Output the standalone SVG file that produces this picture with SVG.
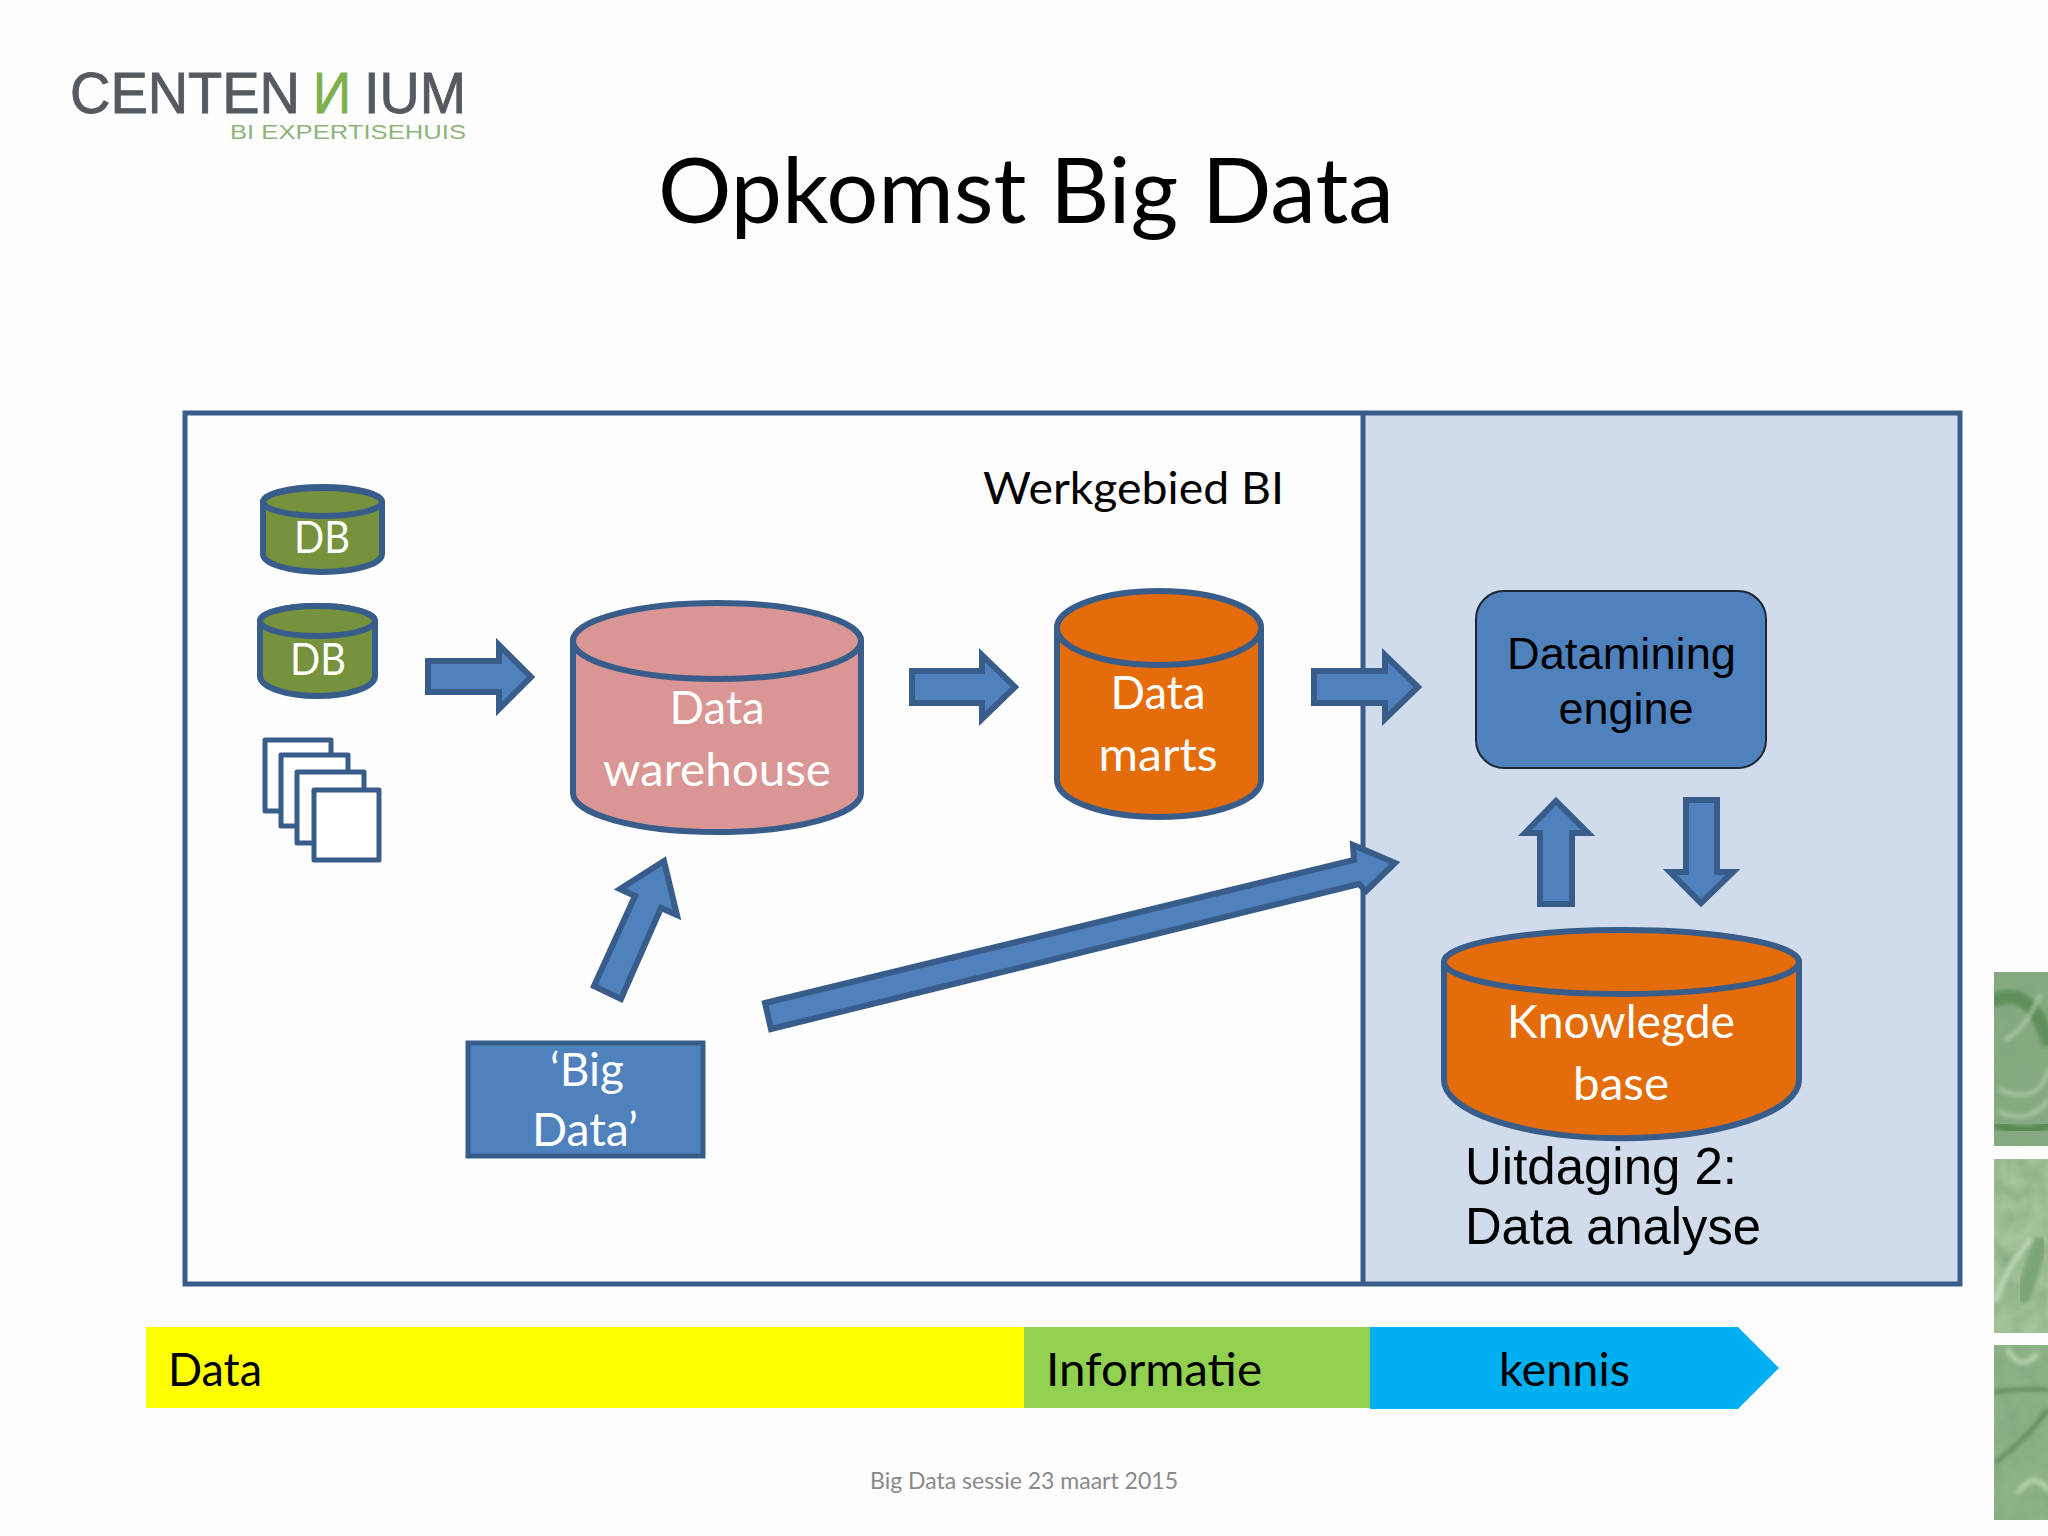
<svg xmlns="http://www.w3.org/2000/svg" width="2048" height="1536" viewBox="0 0 2048 1536">
<style>
.s{stroke:#385D8A;stroke-width:6;stroke-linejoin:round}
.a{fill:#4F81BD;stroke:#385D8A;stroke-width:6;stroke-linejoin:miter}
.t{font-family:"Lato","Noto Sans",sans-serif}
.l{font-family:"Liberation Sans",Arial,sans-serif}
.w{fill:#fff}
.k{fill:#000}
.g{fill:#555a5e;stroke:#555a5e;stroke-width:.9}
.m{text-anchor:middle}
.p{fill:none;stroke-linecap:round;filter:url(#soft)}
</style>
<defs>
<filter id="tex" x="0" y="0" width="100%" height="100%"><feTurbulence type="fractalNoise" baseFrequency="0.045" numOctaves="3" seed="4"/><feColorMatrix values="0 0 0 0 0.22  0 0 0 0 0.38  0 0 0 0 0.22  1.4 0 0 0 -0.42"/><feComposite in2="SourceGraphic" operator="in"/><feGaussianBlur stdDeviation="0.8"/><feMerge><feMergeNode in="SourceGraphic"/><feMergeNode/></feMerge></filter>
<filter id="soft" x="-20%" y="-20%" width="140%" height="140%"><feGaussianBlur stdDeviation="2"/></filter>
<clipPath id="c1"><rect x="1994" y="972" width="54" height="174"/></clipPath>
<clipPath id="c2"><rect x="1994" y="1159" width="54" height="174"/></clipPath>
<clipPath id="c3"><rect x="1994" y="1345" width="54" height="175"/></clipPath>
</defs>
<rect width="2048" height="1536" fill="#fefefe"/>
<g id="logo">
<text class="l g" x="70" y="113" font-size="58" textLength="230" lengthAdjust="spacingAndGlyphs">CENTEN</text>
<text class="l" transform="translate(351 113) scale(-1 1)" font-size="58" fill="#7fb04f" stroke="#7fb04f" stroke-width=".9" textLength="38" lengthAdjust="spacingAndGlyphs">N</text>
<text class="l g" x="364" y="113" font-size="58" textLength="102" lengthAdjust="spacingAndGlyphs">IUM</text>
<text class="l" x="230" y="139" font-size="20" fill="#8db57b" textLength="236" lengthAdjust="spacingAndGlyphs">BI EXPERTISEHUIS</text>
</g>
<text id="title" class="t k" x="658" y="223" font-size="91" textLength="736" lengthAdjust="spacingAndGlyphs">Opkomst Big Data</text>
<g id="werkgebied">
<rect x="1362" y="413" width="598" height="871" fill="#D0DBEC"/>
<rect x="185" y="413" width="1775" height="871" fill="none" stroke="#385D8A" stroke-width="5"/>
<line x1="1363" y1="413" x2="1363" y2="1284" stroke="#385D8A" stroke-width="5"/>
<text class="t k" x="983" y="504" font-size="45" textLength="301" lengthAdjust="spacingAndGlyphs">Werkgebied BI</text>
</g>
<g id="db1">
<path class="s" fill="#76923C" d="M263 502a59.500 15 0 0 1 119 0v52a59.500 18 0 0 1 -119 0z"/>
<ellipse class="s" cx="322.500" cy="502" rx="59.500" ry="14" fill="#76923C"/>
<text class="t w m" x="322" y="553" font-size="44" textLength="56" lengthAdjust="spacingAndGlyphs">DB</text>
</g>
<g id="db2">
<path class="s" fill="#76923C" d="M260 621a57.500 15 0 0 1 115 0v55a57.500 20 0 0 1 -115 0z"/>
<ellipse class="s" cx="317.500" cy="621" rx="57.500" ry="15" fill="#76923C"/>
<text class="t w m" x="318" y="675" font-size="44" textLength="56" lengthAdjust="spacingAndGlyphs">DB</text>
</g>
<g id="docs" fill="#fff" stroke="#385D8A" stroke-width="5" stroke-linejoin="round">
<rect x="265" y="740" width="66" height="71"/>
<rect x="281" y="755" width="67" height="71"/>
<rect x="297" y="772" width="67" height="71"/>
<rect x="314" y="790" width="65" height="70"/>
</g>
<g id="data-warehouse">
<path class="s" fill="#D99694" d="M573 641a144 37 0 0 1 288 0v152a144 39 0 0 1 -288 0z"/>
<ellipse class="s" cx="717" cy="641" rx="144" ry="38" fill="#D99694"/>
<text class="t w m" x="717" y="724" font-size="46" textLength="95" lengthAdjust="spacingAndGlyphs">Data</text>
<text class="t w m" x="717" y="786" font-size="46" textLength="228" lengthAdjust="spacingAndGlyphs">warehouse</text>
</g>
<g id="data-marts">
<path class="s" fill="#E46C0A" d="M1057 628a102 36 0 0 1 204 0v152a102 37 0 0 1 -204 0z"/>
<ellipse class="s" cx="1159" cy="628" rx="102" ry="37" fill="#E46C0A"/>
<text class="t w m" x="1158" y="709" font-size="46" textLength="95" lengthAdjust="spacingAndGlyphs">Data</text>
<text class="t w m" x="1158" y="771" font-size="46" textLength="119" lengthAdjust="spacingAndGlyphs">marts</text>
</g>
<g id="datamining-engine">
<rect x="1476" y="591" width="290" height="177" rx="28" fill="#4F81BD" stroke="#1c2733" stroke-width="2"/>
<text class="l k" x="1507" y="669" font-size="45" textLength="229" lengthAdjust="spacingAndGlyphs">Datamining</text>
<text class="l k m" x="1626" y="724" font-size="45">engine</text>
</g>
<g id="knowledge-base">
<path class="s" fill="#E46C0A" d="M1444 962a177 31 0 0 1 355 0v118a177 58 0 0 1 -355 0z" />
<ellipse class="s" cx="1621.500" cy="962" rx="177.500" ry="32" fill="#E46C0A"/>
<text class="t w m" x="1621" y="1038" font-size="46" textLength="228" lengthAdjust="spacingAndGlyphs">Knowlegde</text>
<text class="t w m" x="1621" y="1100" font-size="46" textLength="96" lengthAdjust="spacingAndGlyphs">base</text>
</g>
<g id="big-data">
<rect x="468" y="1043" width="235" height="113" fill="#4F81BD" stroke="#385D8A" stroke-width="5"/>
<text class="t w m" x="587" y="1086" font-size="46" textLength="74" lengthAdjust="spacingAndGlyphs">‘Big</text>
<text class="t w m" x="585" y="1146" font-size="46" textLength="106" lengthAdjust="spacingAndGlyphs">Data’</text>
</g>
<g id="connectors">
<polygon class="a" points="428,661 499,661 499,645 531,677 499,709 499,692 428,692"/>
<polygon class="a" points="912,671 982,671 982,655 1015,687 982,719 982,703 912,703"/>
<polygon class="a" points="1314,671 1385,671 1385,655 1418,687 1385,719 1385,703 1314,703"/>
<polygon class="a" points="1540,904 1540,833 1525,833 1556,801 1588,833 1572,833 1572,904"/>
<polygon class="a" points="1686,800 1717,800 1717,872 1733,872 1701,903 1670,872 1686,872"/>
<polygon class="a" points="594,986 621,999 661,908 677,915 664,861 620,889 635,896"/>
<polygon class="a" points="765,1003 1354,860 1353,845 1395,863 1366,891 1359,884 771,1029"/>
</g>
<g id="uitdaging">
<text class="l k" x="1465" y="1184" font-size="52" textLength="272" lengthAdjust="spacingAndGlyphs">Uitdaging 2:</text>
<text class="l k" x="1465" y="1244" font-size="52" textLength="296" lengthAdjust="spacingAndGlyphs">Data analyse</text>
</g>
<g id="bar">
<rect x="146" y="1327" width="878" height="81" fill="#FFFF00"/>
<rect x="1024" y="1327" width="346" height="81" fill="#92D050"/>
<polygon points="1370,1327 1738,1327 1779,1368 1738,1409 1370,1409" fill="#00B0F0"/>
<text class="t k" x="168" y="1386" font-size="46" textLength="94" lengthAdjust="spacingAndGlyphs">Data</text>
<text class="t k" x="1046" y="1386" font-size="46" textLength="216" lengthAdjust="spacingAndGlyphs">Informatie</text>
<text class="t k" x="1499" y="1386" font-size="46" textLength="131" lengthAdjust="spacingAndGlyphs">kennis</text>
</g>
<text id="footer" class="t" x="870" y="1489" font-size="24" fill="#898989" textLength="308" lengthAdjust="spacingAndGlyphs">Big Data sessie 23 maart 2015</text>
<g id="photos">
<rect x="1994" y="972" width="54" height="174" fill="#86ab80" filter="url(#tex)"/>
<g clip-path="url(#c1)">
<path class="p" stroke="#5f8f5c" stroke-width="14" d="M1994 1000Q2030 985 2048 1040"/>
<path class="p" stroke="#b5cfae" stroke-width="3" d="M2005 1040Q2025 1030 2040 995M2000 1090Q2040 1105 2048 1070M2000 1112Q2030 1125 2048 1100"/>
<path class="p" stroke="#5c8a58" stroke-width="10" d="M1998 1125Q2025 1135 2048 1125"/>
</g>
<rect x="1994" y="1159" width="54" height="174" fill="#a3c598" filter="url(#tex)"/>
<g clip-path="url(#c2)">
<path class="p" stroke="#7ba575" stroke-width="16" d="M2040 1245Q2030 1275 2024 1295"/>
<path class="p" stroke="#c0d9b8" stroke-width="5" d="M1996 1300Q2005 1270 2030 1240"/>
</g>
<rect x="1994" y="1345" width="54" height="175" fill="#8db386" filter="url(#tex)"/>
<g clip-path="url(#c3)">
<path class="p" stroke="#527f4f" stroke-width="3" d="M1994 1392Q2020 1388 2048 1390M1996 1462Q2025 1440 2048 1410"/>
<path class="p" stroke="#b8d3ae" stroke-width="5" d="M2008 1350Q2020 1372 2036 1355M2018 1492Q2035 1470 2048 1490"/>
</g>
</g>
</svg>
